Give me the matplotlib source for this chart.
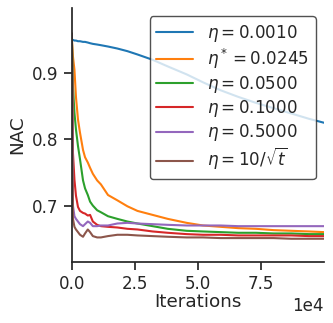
import matplotlib
matplotlib.use('Agg')
import matplotlib.pyplot as plt
import seaborn as sns

sns.set_theme(context='notebook', style='ticks', palette='tab10', font_scale=1.1)

iters = [0, 400, 1000, 1600, 2400, 3200, 4400, 5200, 6300, 7200, 8300, 10000,
         11500, 14300, 18000, 22000, 26000, 32000, 38000, 45500, 52000, 59000,
         66000, 73000, 80000, 87000, 94000, 100000]

nac_0010 = [0.950, 0.950, 0.949, 0.949, 0.948, 0.948, 0.947, 0.947, 0.946, 0.945,
            0.944, 0.943, 0.942, 0.940, 0.937, 0.933, 0.928, 0.920, 0.910, 0.898,
            0.886, 0.874, 0.864, 0.855, 0.847, 0.839, 0.831, 0.825]
nac_0245 = [0.950, 0.925, 0.905, 0.864, 0.830, 0.810, 0.784, 0.773, 0.765, 0.757,
            0.748, 0.738, 0.732, 0.716, 0.708, 0.699, 0.692, 0.686, 0.680, 0.674,
            0.670, 0.668, 0.666, 0.665, 0.663, 0.662, 0.661, 0.660]
nac_0500 = [0.950, 0.880, 0.840, 0.815, 0.790, 0.770, 0.738, 0.726, 0.716, 0.706,
            0.700, 0.693, 0.690, 0.684, 0.680, 0.676, 0.673, 0.669, 0.665, 0.662,
            0.661, 0.660, 0.659, 0.659, 0.658, 0.658, 0.657, 0.657]
nac_1000 = [0.950, 0.780, 0.739, 0.715, 0.698, 0.692, 0.689, 0.688, 0.685, 0.686,
            0.676, 0.671, 0.669, 0.668, 0.667, 0.665, 0.664, 0.661, 0.659, 0.657,
            0.656, 0.656, 0.655, 0.655, 0.655, 0.655, 0.654, 0.654]
nac_5000 = [0.950, 0.700, 0.684, 0.680, 0.676, 0.672, 0.669, 0.672, 0.676, 0.674,
            0.669, 0.669, 0.670, 0.670, 0.673, 0.674, 0.673, 0.672, 0.671, 0.670,
            0.670, 0.670, 0.669, 0.669, 0.669, 0.669, 0.669, 0.669]
nac_sqrt = [0.960, 0.680, 0.668, 0.664, 0.660, 0.656, 0.653, 0.658, 0.664, 0.660,
            0.654, 0.652, 0.652, 0.654, 0.656, 0.656, 0.655, 0.654, 0.653, 0.652,
            0.652, 0.651, 0.651, 0.651, 0.651, 0.650, 0.650, 0.650]

series = [
    (nac_0010, r'$\eta = 0.0010$'),
    (nac_0245, r'$\eta^* = 0.0245$'),
    (nac_0500, r'$\eta = 0.0500$'),
    (nac_1000, r'$\eta = 0.1000$'),
    (nac_5000, r'$\eta = 0.5000$'),
    (nac_sqrt, r'$\eta = 10/\sqrt{t}$'),
]

fig, ax = plt.subplots(figsize=(3.33, 3.23), dpi=100)
fig.subplots_adjust(left=0.216, right=0.973, bottom=0.189, top=0.975)

for vals, lab in series:
    ax.plot(iters, vals, label=lab)

ax.set_xlim(0, 100000)
ax.set_ylim(0.615, 0.998)
ax.set_xticks([0, 25000, 50000, 75000])
ax.set_yticks([0.7, 0.8, 0.9])
ax.ticklabel_format(axis='x', style='sci', scilimits=(0, 0))
ax.set_xlabel('Iterations', labelpad=0)
ax.set_ylabel('NAC')
leg = ax.legend(loc='upper right', frameon=True, labelspacing=0.18,
                handlelength=2.2)
leg.get_frame().set_edgecolor('0.15')
sns.despine()

fig.savefig('out.png', dpi=100)
